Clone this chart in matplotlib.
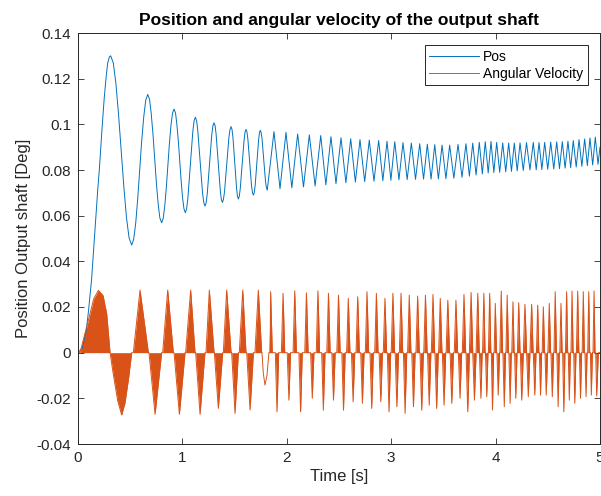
import numpy as np
import matplotlib
matplotlib.use("Agg")
import matplotlib.pyplot as plt
from matplotlib.ticker import FuncFormatter

plt.rcParams['font.family'] = ['Liberation Sans', 'DejaVu Sans']
plt.rcParams['axes.unicode_minus'] = False

# ---------------- data: position of output shaft ----------------
pos_peak_t = [0.313, 0.668, 0.920, 1.124, 1.303, 1.466, 1.609, 1.746, 1.877, 1.992,
              2.104, 2.216, 2.325, 2.423, 2.519, 2.612, 2.701, 2.790, 2.880, 2.960,
              3.034, 3.113, 3.193, 3.273, 3.346, 3.417, 3.487, 3.560, 3.640, 3.716,
              3.781, 3.844, 3.901, 3.956, 4.010, 4.068, 4.125, 4.179, 4.234, 4.296,
              4.361, 4.416, 4.470, 4.528, 4.585, 4.639, 4.693, 4.744, 4.799, 4.853,
              4.904, 4.955]
pos_peak_y = [0.1300, 0.1131, 0.1067, 0.1031, 0.1007, 0.0990, 0.0978, 0.0974, 0.0968, 0.0965,
              0.0958, 0.0954, 0.0951, 0.0946, 0.0941, 0.0937, 0.0933, 0.0931, 0.0929, 0.0926,
              0.0924, 0.0920, 0.0918, 0.0915, 0.0913, 0.0911, 0.0909, 0.0909, 0.0912, 0.0915,
              0.0918, 0.0921, 0.0924, 0.0925, 0.0921, 0.0919, 0.0918, 0.0918, 0.0919, 0.0920,
              0.0921, 0.0920, 0.0921, 0.0922, 0.0923, 0.0924, 0.0926, 0.0929, 0.0933, 0.0936,
              0.0940, 0.0944]
pos_trough_t = [0.514, 0.801, 1.028, 1.216, 1.383, 1.536, 1.680, 1.813, 1.935, 2.048,
                2.160, 2.271, 2.374, 2.471, 2.566, 2.657, 2.746, 2.835, 2.920, 2.997,
                3.074, 3.153, 3.233, 3.310, 3.382, 3.452, 3.524, 3.600, 3.678, 3.749,
                3.813, 3.873, 3.929, 3.983, 4.039, 4.097, 4.152, 4.207, 4.265, 4.329,
                4.389, 4.443, 4.499, 4.557, 4.612, 4.666, 4.719, 4.772, 4.826, 4.879,
                4.930, 4.981]
pos_trough_y = [0.0471, 0.0569, 0.0613, 0.0642, 0.0658, 0.0673, 0.0690, 0.0712, 0.0718, 0.0722,
                0.0726, 0.0730, 0.0735, 0.0740, 0.0744, 0.0747, 0.0749, 0.0751, 0.0753, 0.0755,
                0.0757, 0.0758, 0.0759, 0.0760, 0.0760, 0.0761, 0.0762, 0.0764, 0.0768, 0.0773,
                0.0778, 0.0783, 0.0787, 0.0789, 0.0790, 0.0792, 0.0794, 0.0796, 0.0798, 0.0800,
                0.0801, 0.0802, 0.0803, 0.0804, 0.0806, 0.0808, 0.0810, 0.0813, 0.0816, 0.0819,
                0.0822, 0.0825]
# additional points read along the slow early part of the curve
pos_extra_t = [0.000, 0.040, 0.080, 0.100, 0.130, 0.160, 0.190, 0.204, 0.230, 0.252, 0.270, 0.284, 0.300,
               0.338, 0.363, 0.388, 0.414, 0.439, 0.464, 0.489,
               0.533, 0.553, 0.572, 0.591, 0.610, 0.630, 0.649,
               0.685, 0.701, 0.718, 0.735, 0.751, 0.768, 0.784,
               0.816, 0.831, 0.846, 0.861, 0.875, 0.890, 0.905,
               0.934, 0.947, 0.961, 0.974, 0.988, 1.001, 1.015,
               1.040, 1.052, 1.076, 1.100, 1.112,
               1.136, 1.147, 1.170, 1.193, 1.205,
               1.227, 1.238, 1.260, 1.281, 1.292,
               1.313, 1.323, 1.343, 1.363, 1.373,
               1.393, 1.404, 1.425, 1.445, 1.456,
               1.475, 1.484, 1.501, 1.519, 1.527,
               1.545, 1.554, 1.573, 1.591, 1.600,
               1.618, 1.627, 1.645, 1.662, 1.671,
               1.688, 1.697, 1.713, 1.730, 1.738,
               1.754, 1.763, 1.780, 1.796, 1.805,
               5.000]
pos_extra_y = [0.0000, 0.0020, 0.0100, 0.0180, 0.0320, 0.0520, 0.0720, 0.0800, 0.0980, 0.1120, 0.1210, 0.1267, 0.1295,
               0.1269, 0.1179, 0.1045, 0.0886, 0.0727, 0.0593, 0.0503,
               0.0496, 0.0568, 0.0675, 0.0801, 0.0927, 0.1034, 0.1106,
               0.1110, 0.1049, 0.0958, 0.0850, 0.0742, 0.0651, 0.0590,
               0.0588, 0.0642, 0.0723, 0.0818, 0.0913, 0.0994, 0.1048,
               0.1050, 0.1000, 0.0927, 0.0840, 0.0753, 0.0680, 0.0630,
               0.0629, 0.0674, 0.0822, 0.0970, 0.1015,
               0.1016, 0.0974, 0.0837, 0.0699, 0.0657,
               0.0656, 0.0695, 0.0825, 0.0954, 0.0993,
               0.0994, 0.0956, 0.0833, 0.0709, 0.0671,
               0.0671, 0.0707, 0.0824, 0.0941, 0.0977,
               0.0978, 0.0944, 0.0832, 0.0719, 0.0686,
               0.0685, 0.0718, 0.0826, 0.0933, 0.0966,
               0.0967, 0.0936, 0.0834, 0.0732, 0.0701,
               0.0701, 0.0732, 0.0832, 0.0932, 0.0963,
               0.0964, 0.0936, 0.0843, 0.0750, 0.0722,
               0.0900]

# ---------------- data: angular velocity ----------------
# broad early bursts: start, peak time, end, peak value
hump_start = [0.019, 0.307, 0.530, 0.680, 0.811, 0.920, 1.031, 1.127, 1.226, 1.306, 1.392, 1.472, 1.545, 1.616, 1.695]
hump_peak_t = [0.195, 0.418, 0.594, 0.738, 0.859, 0.971, 1.079, 1.169, 1.258, 1.344, 1.424, 1.504, 1.578, 1.648, 1.727]
hump_end = [0.307, 0.514, 0.674, 0.801, 0.913, 1.025, 1.121, 1.216, 1.303, 1.386, 1.466, 1.536, 1.609, 1.680, 1.759]
hump_peak_v = [0.0273, -0.0273, 0.0274, -0.0270, 0.0274, -0.0270, 0.0274, -0.0270, 0.0274, -0.0244,
               0.0274, -0.0266, 0.0274, -0.0251, 0.0274]
# shoulder points of the first two bursts
hump_extra_t = [0.100, 0.150, 0.240, 0.275, 0.340, 0.380, 0.450, 0.485]
hump_extra_v = [0.0143, 0.0235, 0.0250, 0.0170, -0.0100, -0.0210, -0.0220, -0.0110]
# shallow dip (thin line only)
dip_t = [1.762, 1.775, 1.791, 1.810, 1.840]
dip_v = [0.0, -0.0090, -0.0142, -0.0100, 0.0]
# narrow spikes later on
spike_up_t = [1.845, 1.964, 2.076, 2.188, 2.298, 2.399, 2.495, 2.589, 2.679, 2.768,
              2.858, 2.940, 3.016, 3.094, 3.173, 3.253, 3.328, 3.400, 3.470, 3.542,
              3.620, 3.697, 3.765, 3.829, 3.887, 3.943, 3.997, 4.054, 4.111, 4.166,
              4.221, 4.281, 4.345, 4.403, 4.457, 4.514, 4.571, 4.626, 4.680, 4.732,
              4.786, 4.840, 4.892, 4.943]
spike_up_v = [0.0267, 0.0260, 0.0271, 0.0262, 0.0271, 0.0260, 0.0252, 0.0238, 0.0245, 0.0267,
              0.0260, 0.0238, 0.0260, 0.0260, 0.0252, 0.0248, 0.0252, 0.0255, 0.0238, 0.0230,
              0.0230, 0.0255, 0.0264, 0.0260, 0.0260, 0.0260, 0.0216, 0.0270, 0.0252, 0.0223,
              0.0219, 0.0212, 0.0212, 0.0208, 0.0201, 0.0216, 0.0267, 0.0216, 0.0267, 0.0270,
              0.0270, 0.0267, 0.0267, 0.0270]
spike_down_t = [1.906, 2.020, 2.132, 2.244, 2.350, 2.447, 2.543, 2.635, 2.724, 2.813,
                2.900, 2.979, 3.054, 3.133, 3.213, 3.292, 3.364, 3.435, 3.506, 3.580,
                3.659, 3.733, 3.797, 3.859, 3.915, 3.970, 4.025, 4.083, 4.139, 4.193,
                4.250, 4.313, 4.375, 4.430, 4.485, 4.543, 4.599, 4.653, 4.706, 4.758,
                4.813, 4.866, 4.917, 4.968]
spike_down_v = [-0.0259, -0.0208, -0.0259, -0.0200, -0.0252, -0.0208, -0.0252, -0.0215, -0.0222, -0.0244,
                -0.0215, -0.0259, -0.0237, -0.0266, -0.0237, -0.0252, -0.0230, -0.0244, -0.0230, -0.0222,
                -0.0200, -0.0259, -0.0208, -0.0200, -0.0193, -0.0251, -0.0186, -0.0237, -0.0222, -0.0200,
                -0.0208, -0.0193, -0.0186, -0.0186, -0.0186, -0.0193, -0.0237, -0.0259, -0.0208, -0.0222,
                -0.0200, -0.0193, -0.0186, -0.0190]

x_ticks = [0, 1, 2, 3, 4, 5]
y_ticks = [-0.04, -0.02, 0, 0.02, 0.04, 0.06, 0.08, 0.1, 0.12, 0.14]

# ---------------- build series ----------------
pt = np.concatenate([pos_peak_t, pos_trough_t, pos_extra_t])
py = np.concatenate([pos_peak_y, pos_trough_y, pos_extra_y])
o = np.argsort(pt, kind='stable')
pt, py = pt[o], py[o]

SPIKE_HALF = 0.016
ft, fv = [0.0], [0.0]
for s, p, e, v in zip(hump_start, hump_peak_t, hump_end, hump_peak_v):
    ft += [s, p, e]
    fv += [0.0, v, 0.0]
ft += list(hump_extra_t)
fv += list(hump_extra_v)
for p, v in list(zip(spike_up_t, spike_up_v)) + list(zip(spike_down_t, spike_down_v)):
    ft += [p - SPIKE_HALF, p, p + SPIKE_HALF]
    fv += [0.0, v, 0.0]
ft += [5.0]
fv += [0.0]
ft = np.array(ft); fv = np.array(fv)
o = np.argsort(ft, kind='stable')
ft, fv = ft[o], fv[o]

lt = np.concatenate([ft, dip_t]); lv = np.concatenate([fv, dip_v])
o = np.argsort(lt, kind='stable')
lt, lv = lt[o], lv[o]

# ---------------- plot ----------------
BLUE = '#0072BD'
ORANGE = '#D95319'
DARK = '#262626'

fig = plt.figure(figsize=(6.01, 4.96), dpi=100)
ax = fig.add_axes([78/601, 52/496, 522/601, 411/496])

ax.plot(pt, py, color=BLUE, lw=0.7, label='Pos')
ax.fill_between(ft, fv, 0, color=ORANGE, lw=0)
ax.plot(lt, lv, color=ORANGE, lw=0.7, label='Angular Velocity')

ax.set_xlim(0, 5)
ax.set_ylim(-0.04, 0.14)
ax.set_xticks(x_ticks)
ax.set_yticks(y_ticks)
ax.yaxis.set_major_formatter(FuncFormatter(lambda v, p: '%g' % round(v, 4)))
ax.tick_params(direction='in', length=4, width=0.6, colors=DARK, labelsize=11,
               top=True, right=True, pad=5)
for sp in ax.spines.values():
    sp.set_color(DARK)
    sp.set_linewidth(0.7)

ax.set_title('Position and angular velocity of the output shaft', fontsize=12.5,
             fontweight='bold', color='black', pad=6)
ax.set_xlabel('Time [s]', fontsize=12, color=DARK, labelpad=3)
ax.set_ylabel('Position Output shaft [Deg]', fontsize=12, color=DARK, labelpad=4)

leg = ax.legend(loc='upper right', fontsize=10, frameon=True, fancybox=False,
                edgecolor=DARK, framealpha=1, handlelength=3.6, handletextpad=0.3,
                labelspacing=0.25, borderpad=0.3, borderaxespad=0.9)
leg.get_frame().set_linewidth(0.7)

fig.savefig('out.png', dpi=100)
